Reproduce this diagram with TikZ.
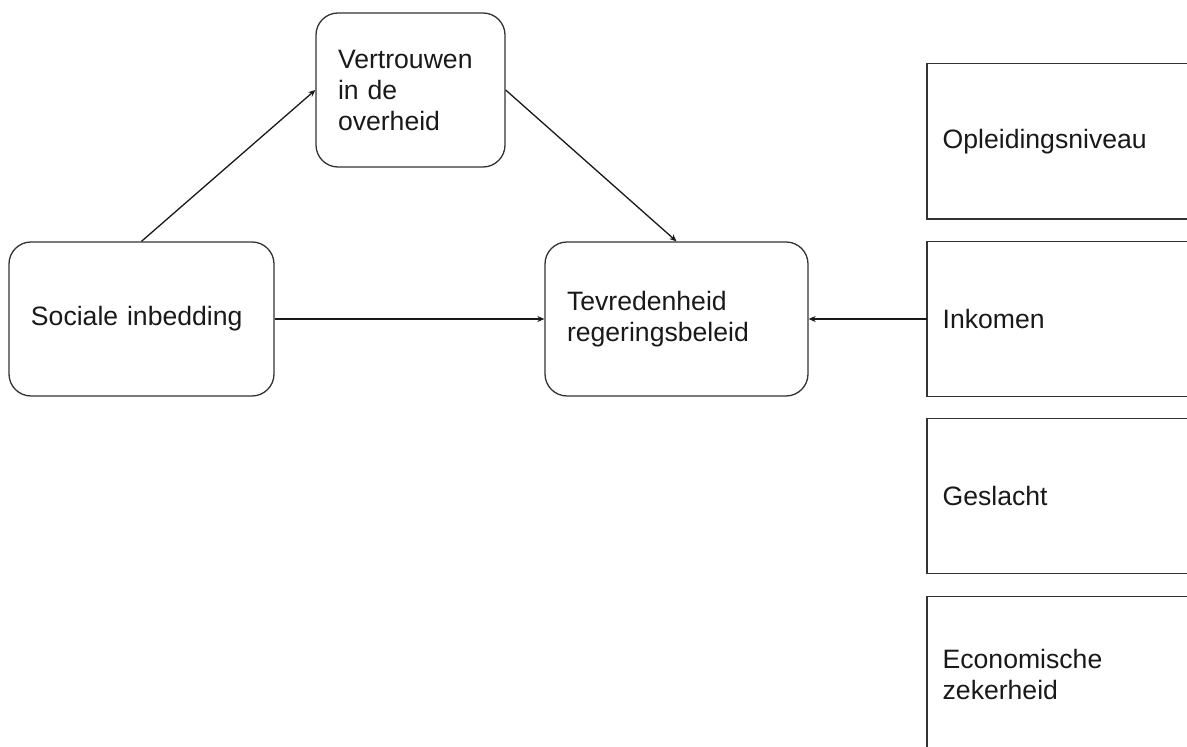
\documentclass[tikz,border=0pt]{standalone}
\usepackage{fontspec}
\setmainfont{Liberation Sans}
\usetikzlibrary{arrows.meta}
\begin{document}
\begin{tikzpicture}[x=0.5pt, y=-0.5pt, line width=0.65pt,
	every node/.style={font=\fontsize{13.3pt}{15.5pt}\selectfont, text=black!90},
	rbox/.style={draw=black!80, rounded corners=11pt, minimum height=77pt, inner xsep=11pt, align=left},
	cbox/.style={anchor=west, minimum height=77pt, text width=171.5pt, inner xsep=7.5pt, align=left},
	arr/.style={draw=black!90, -{Stealth[length=3.5pt, width=3pt]}}]
	\useasboundingbox (0, 0) rectangle (1187, 747);
	\clip (0, 0) rectangle (1187, 747);

	\node[rbox, text width=110.5pt] at (141.5, 319) (SI) {Sociale inbedding};
	\node[rbox, text width=72.5pt]  at (410.5, 90)  (VO) {Vertrouwen\\in de\\overheid};
	\node[rbox, text width=109.5pt] at (676.5, 319) (TR) {Tevredenheid\\regeringsbeleid};

	\node[cbox] at (927, 141.5) (OP) {Opleidingsniveau};
	\node[cbox] at (927, 319)   (IN) {Inkomen};
	\node[cbox] at (927, 496)   (GE) {Geslacht};
	\node[cbox] at (927, 674)   (EZ) {Economische\\zekerheid};

	% boxes run off the right edge
	\foreach \n in {OP, IN, GE, EZ}
		\draw [black!80] (\n.north east) -- (\n.north west) -- (\n.south west) -- (\n.south east);

	\draw [arr] (SI.north) -- (VO.west);
	\draw [arr] (VO.east) -- (TR.north);
	\draw [arr] (SI.east) -- (TR.west);
	\draw [arr] (IN.west) -- (TR.east);
\end{tikzpicture}
\end{document}
